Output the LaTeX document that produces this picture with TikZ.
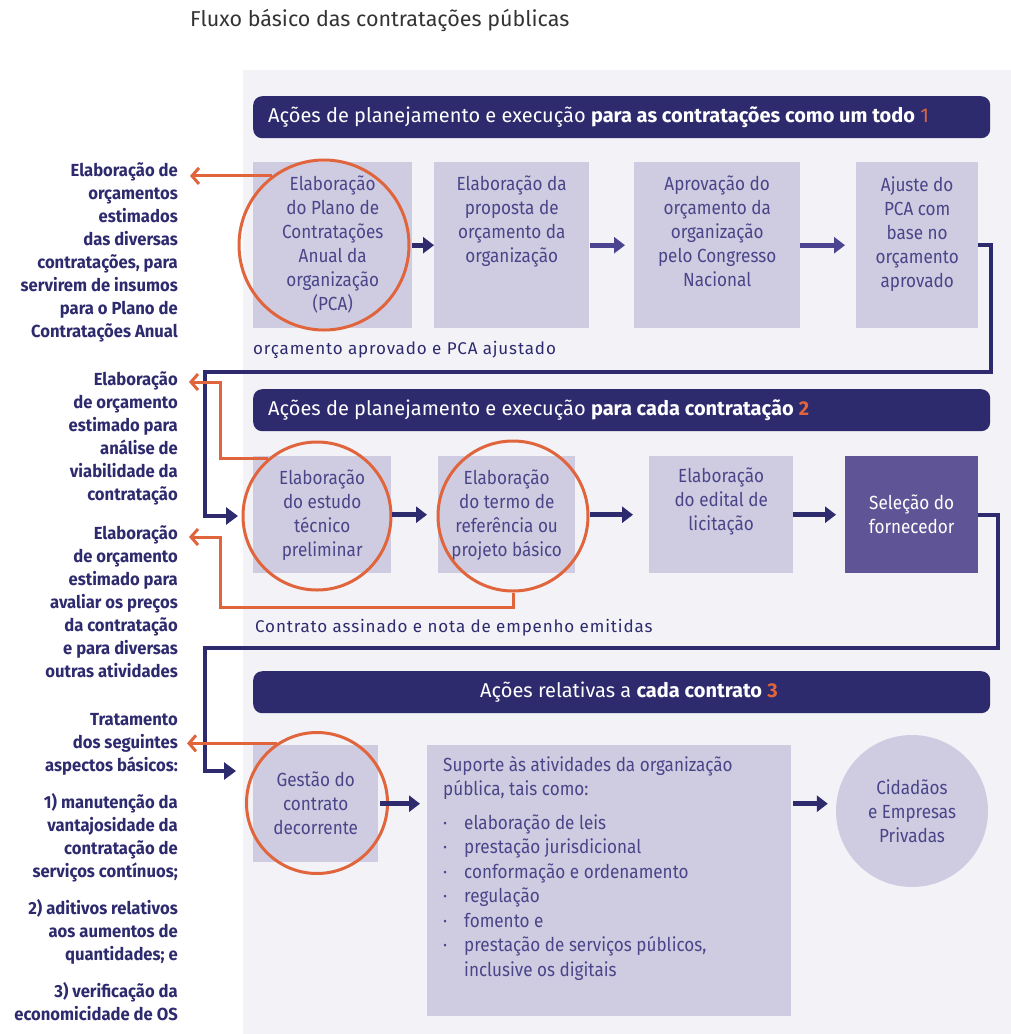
\documentclass[tikz,border=0pt]{standalone}
\usepackage{fontspec}
\setmainfont{Fira Sans}
\newfontfamily\condfont[FakeStretch=0.9]{Fira Sans}
\newfontfamily\sidefont[FakeStretch=0.95]{Fira Sans}
\newfontfamily\widefont[LetterSpace=5]{Fira Sans}
\usetikzlibrary{positioning,arrows.meta}
\definecolor{navy}{HTML}{2E2A6E}
\definecolor{lilac}{HTML}{CFCCE1}
\definecolor{panel}{HTML}{F2F2F7}
\definecolor{ink}{HTML}{4A4589}
\definecolor{laranja}{HTML}{E0653C}
\definecolor{roxo}{HTML}{5F5596}
\definecolor{seta}{HTML}{4B4490}
\definecolor{cinza}{HTML}{333333}

\tikzset{
  caixa/.style={fill=lilac, anchor=north west, inner sep=0},
  caixatxt/.style={font=\condfont\fontsize{19}{24}\selectfont, text=ink, align=center, anchor=north, inner sep=0},
  faixa/.style={fill=navy, rounded corners=9pt, anchor=north west, inner sep=0, minimum width=737pt, minimum height=42pt},
  faixatxt/.style={font=\fontsize{20}{22}\selectfont, text=white, inner sep=0},
  lateral/.style={font=\sidefont\bfseries\fontsize{17.5}{23}\selectfont, text=navy, align=right, anchor=north east, inner sep=0},
  nota/.style={font=\widefont\fontsize{17}{20}\selectfont, text=navy, anchor=west, inner sep=0},
  anel/.style={circle, draw=laranja, line width=3pt, inner sep=0},
  passo/.style={-{Triangle[length=11pt,width=16pt]}, line width=5pt, draw=navy},
  fluxo/.style={-{Triangle[length=12pt,width=17pt]}, line width=4pt, draw=navy},
  retorno/.style={-{Straight Barb[length=7pt,width=16pt]}, line width=3pt, draw=laranja},
}

\begin{document}
\begin{tikzpicture}[x=1pt,y=-1pt]
\useasboundingbox (0,0) rectangle (1011,1034);
\fill[panel] (243,70) rectangle (1011,1034);

\node[font=\fontsize{21.5}{24}\selectfont, text=cinza, anchor=west, inner sep=0] (titulo) at (190,20) {Fluxo básico das contratações públicas};

% bloco 1
\node[faixa] (f1) at (253,96) {};
\node[faixatxt, right=15pt of f1.west] (h1) {Ações de planejamento e execução \textbf{para as contratações como um todo} \textcolor{laranja}{1}};

\node[caixa, minimum width=159pt, minimum height=166pt] (b1) at (253,162) {};
\node[caixa, minimum width=155pt, minimum height=166pt] (b2) at (434,162) {};
\node[caixa, minimum width=166pt, minimum height=166pt] (b3) at (634,162) {};
\node[caixa, minimum width=122pt, minimum height=166pt] (b4) at (856,162) {};
\node[caixatxt, below=14pt of b1.north] (tb1) {Elaboração\\do Plano de\\Contratações\\Anual da\\organização\\(PCA)};
\node[caixatxt, below=14pt of b2.north] (tb2) {Elaboração da\\proposta de\\orçamento da\\organização};
\node[caixatxt, below=14pt of b3.north] (tb3) {Aprovação do\\orçamento da\\organização\\pelo Congresso\\Nacional};
\node[caixatxt, below=14pt of b4.north] (tb4) {Ajuste do\\PCA com\\base no\\orçamento\\aprovado};
\node[anel, minimum size=170pt] (o1) at (324,245) {};

\draw[passo] (b1.east) -- (b2.west);
\draw[passo, draw=seta, shorten <=1pt, shorten >=9pt] (b2.east) -- (b3.west);
\draw[passo, draw=seta, shorten >=11pt] (b3.east) -- (b4.west);

\node[lateral] (l1) at (178,162) {Elaboração de\\orçamentos\\estimados\\das diversas\\contratações, para\\servirem de insumos\\para o Plano de\\Contratações Anual};
\coordinate (a1) at (190,178);
\draw[retorno] (o1.127) -- (o1.127 -| a1);

\node[nota] (n1) at (253,350) {orçamento aprovado e PCA ajustado};
\coordinate (k1) at (991,372);
\coordinate (k2) at (205,372);
\coordinate (e1) at (238,516);
\draw[fluxo] (b4.east) -| (k1) -- (k2) |- (e1);

% bloco 2
\node[faixa] (f2) at (253,389) {};
\node[faixatxt, right=15pt of f2.west] (h2) {Ações de planejamento e execução \textbf{para cada contratação} \textcolor{laranja}{\textbf{2}}};

\node[caixa, minimum width=138pt, minimum height=117pt] (c1) at (253,456) {};
\node[caixa, minimum width=137pt, minimum height=117pt] (c2) at (438,456) {};
\node[caixa, minimum width=144pt, minimum height=117pt] (c3) at (649,456) {};
\node[caixa, fill=roxo, minimum width=133pt, minimum height=117pt] (c4) at (845,456) {};
\node[caixatxt, anchor=center] (tc1) at (c1) {Elaboração\\do estudo\\técnico\\preliminar};
\node[caixatxt, anchor=center] (tc2) at (c2) {Elaboração\\do termo de\\referência ou\\projeto básico};
\node[caixatxt, below=12pt of c3.north] (tc3) {Elaboração\\do edital de\\licitação};
\node[caixatxt, anchor=center, text=white] (tc4) at (c4) {Seleção do\\fornecedor};
\node[anel, minimum size=148pt] (o2) at (317,516) {};
\node[anel, minimum size=150pt] (o3) at (513,516) {};

\draw[passo, shorten <=1pt, shorten >=11pt] (c1.east) -- (c2.west);
\draw[passo, shorten <=15pt, shorten >=16pt] (c2.east) -- (c3.west);
\draw[passo, shorten >=9pt] (c3.east) -- (c4.west);

\node[lateral] (l2) at (178,371) {Elaboração\\de orçamento\\estimado para\\análise de\\viabilidade da\\contratação};
\coordinate (m2) at (220,382);
\coordinate (a2) at (189,382);
\draw[retorno] (o2.130) -| (m2) -- (a2);

\node[lateral] (l3) at (178,525) {Elaboração\\de orçamento\\estimado para\\avaliar os preços\\da contratação\\e para diversas\\outras atividades};
\coordinate (m3) at (220,607);
\coordinate (a3) at (189,537);
\draw[retorno] (o3.south) |- (m3) |- (a3);

\node[nota] (n2) at (255,628) {Contrato assinado e nota de empenho emitidas};
\coordinate (k3) at (998,648);
\coordinate (k4) at (205,648);
\coordinate (e2) at (236,771);
\draw[fluxo] (c4.east) -| (k3) -- (k4) |- (e2);

% bloco 3
\node[faixa] (f3) at (253,671) {};
\node[faixatxt] (h3) at (629,692) {Ações relativas a \textbf{cada contrato} \textcolor{laranja}{\textbf{3}}};

\node[caixa, minimum width=125pt, minimum height=117pt] (d1) at (253,745) {};
\node[caixa, minimum width=364pt, minimum height=271pt] (d2) at (427,745) {};
\node[circle, fill=lilac, minimum size=152pt, inner sep=0] (d3) at (912,811) {};
\node[caixatxt, anchor=center] (td1) at (d1) {Gestão do\\contrato\\decorrente};
\node[caixatxt, anchor=center] (td3) at (d3) {Cidadãos\\e Empresas\\Privadas};
\node[font=\condfont\fontsize{19}{24.5}\selectfont, text=ink, align=left, anchor=north west, inner sep=0] (td2) at (443,756) {Suporte às atividades da organização\\pública, tais como:\\[9pt]
\makebox[21pt][l]{·}elaboração de leis\\
\makebox[21pt][l]{·}prestação jurisdicional\\
\makebox[21pt][l]{·}conformação e ordenamento\\
\makebox[21pt][l]{·}regulação\\
\makebox[21pt][l]{·}fomento e\\
\makebox[21pt][l]{·}prestação de serviços públicos,\\
\hspace*{21pt}inclusive os digitais};
\node[anel, minimum size=141pt] (o4) at (317,803) {};

\draw[passo, shorten <=2pt, shorten >=7pt] (d1.east) -- (d1.east -| d2.west);
\draw[passo, shorten <=2pt, shorten >=8pt] (d1.east -| d2.east) -- (d1.east -| d3.west);

\node[lateral] (l4) at (178,713) {Tratamento\\dos seguintes\\aspectos básicos:\\[14pt]1) manutenção da\\vantajosidade da\\contratação de\\serviços contínuos;\\[14pt]2) aditivos relativos\\aos aumentos de\\quantidades; e\\[14pt]3) verificação da\\economicidade de OS};
\coordinate (a4) at (187,746);
\draw[retorno] (o4.124) -- (o4.124 -| a4);
\end{tikzpicture}
\end{document}
